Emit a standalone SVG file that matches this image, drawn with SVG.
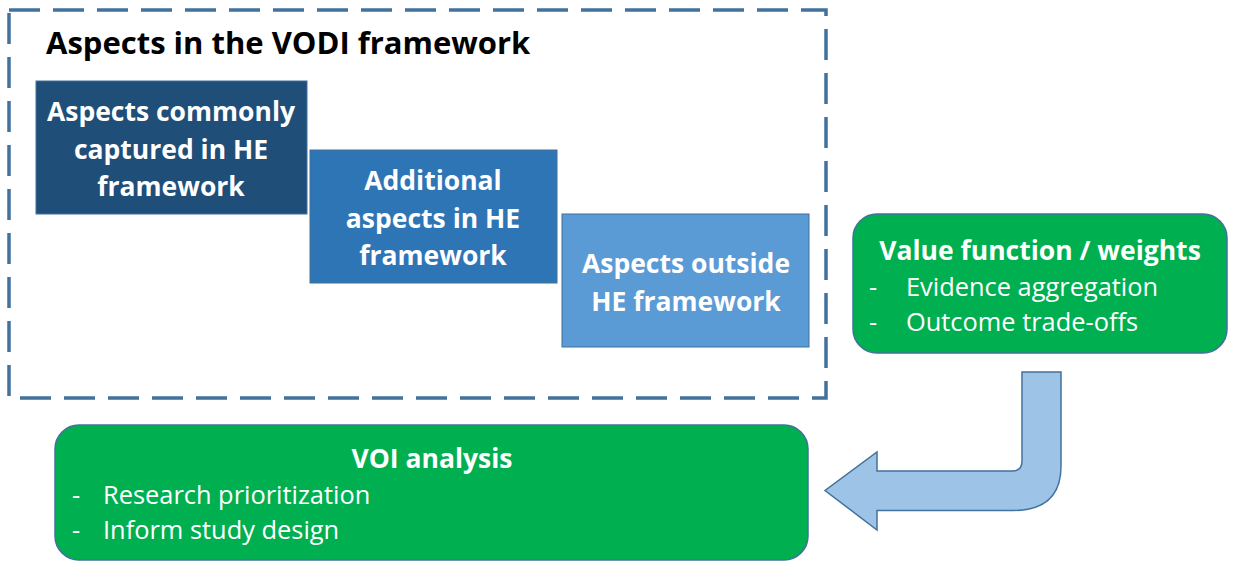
<svg xmlns="http://www.w3.org/2000/svg" width="1233" height="562" viewBox="0 0 1233 562">
<style>
.t{font-family:"Open Sans",Lato,"Liberation Sans",sans-serif;}
.w{fill:#fff;font-weight:bold;font-size:26.5px;text-anchor:middle;}
.g{fill:#00B050;stroke:#41719C;stroke-width:1.5;}
.tb{fill:#fff;font-weight:bold;font-size:26.5px;text-anchor:middle;}
.tr{fill:#fff;font-size:25.4px;}
</style>
<rect width="1233" height="562" fill="#fff"/>
<g id="frame">
<rect x="9" y="10" width="817" height="388" fill="none" stroke="#41719C" stroke-width="3.5" stroke-dasharray="31,13"/>
<text class="t" x="46" y="54" font-size="31" font-weight="bold" fill="#000">Aspects in the VODI framework</text>
</g>
<g id="box1">
<rect x="36" y="81" width="271" height="133" fill="#1F4E79" stroke="#41719C" stroke-width="1"/>
<text class="t w" x="171" y="121">Aspects commonly</text>
<text class="t w" x="171" y="159">captured in HE</text>
<text class="t w" x="171" y="196">framework</text>
</g>
<g id="box2">
<rect x="310" y="150" width="247" height="133" fill="#2E75B6" stroke="#41719C" stroke-width="1"/>
<text class="t w" x="433" y="190">Additional</text>
<text class="t w" x="433" y="228">aspects in HE</text>
<text class="t w" x="433" y="265">framework</text>
</g>
<g id="box3">
<rect x="562" y="214" width="247" height="133" fill="#5B9BD5" stroke="#41719C" stroke-width="1"/>
<text class="t w" x="686" y="273">Aspects outside</text>
<text class="t w" x="686" y="311">HE framework</text>
</g>
<g id="value">
<rect class="g" x="853" y="214" width="374" height="139" rx="24"/>
<text class="t tb" x="1040" y="260">Value function / weights</text>
<text class="t tr" x="869" y="296">-</text>
<text class="t tr" x="906" y="296">Evidence aggregation</text>
<text class="t tr" x="869" y="331">-</text>
<text class="t tr" x="906" y="331">Outcome trade-offs</text>
</g>
<g id="voi">
<rect class="g" x="55" y="425" width="753" height="135" rx="24"/>
<text class="t tb" x="432" y="468">VOI analysis</text>
<text class="t tr" x="72" y="504">-</text>
<text class="t tr" x="103" y="504">Research prioritization</text>
<text class="t tr" x="72" y="539">-</text>
<text class="t tr" x="103" y="539">Inform study design</text>
</g>
<g id="connectors">
<path d="M1022,372 H1061 V466 Q1061,510.5 1013,510.5 H877 V530 L825,490.5 L877,452 V471 H1012 Q1022,471 1022,461 Z" fill="#9DC3E6" stroke="#41719C" stroke-width="1.5"/>
</g>
</svg>
